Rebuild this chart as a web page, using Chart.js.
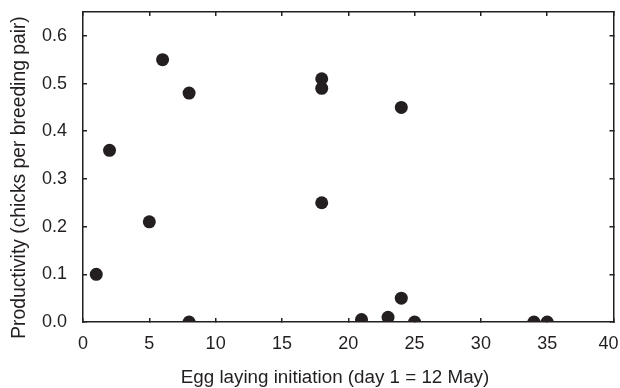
<!DOCTYPE html>
<html>
<head>
<meta charset="utf-8">
<script src="https://cdn.jsdelivr.net/npm/chart.js@4"></script>
<style>
  html, body { margin: 0; padding: 0; background: #ffffff; }
  canvas { display: block; }
</style>
</head>
<body>
<canvas id="c" width="620" height="388"></canvas>
<script>
// Data
const layingDay = [1, 2, 5, 6, 8, 8, 18, 18, 18, 21, 23, 24, 24, 25, 34, 35];
const productivity = [0.10, 0.36, 0.21, 0.55, 0.48, 0.00, 0.51, 0.49, 0.25, 0.005, 0.01, 0.45, 0.05, 0.00, 0.00, 0.00];
const xTickLabels = ['0', '5', '10', '15', '20', '25', '30', '35', '40'];
const yTickLabels = ['0.0', '0.1', '0.2', '0.3', '0.4', '0.5', '0.6'];
const xTitle = 'Egg laying initiation (day 1 = 12 May)';
const yTitle = 'Productivity (chicks per breeding pair)';

const INK = '#231f20';
const FONT = '"Liberation Sans", Arial, Helvetica, sans-serif';

const points = layingDay.map((d, i) => ({ x: d, y: productivity[i] }));

const gridOpts = {
  display: true,
  drawOnChartArea: false,
  drawTicks: true,
  tickLength: -4,
  color: INK,
  lineWidth: 1.5
};
const borderOpts = { display: true, color: INK, width: 1.5 };
const keepY = s => { s.ticks = s.ticks.filter(t => t.value <= 0.6 + 1e-9); };
const noPad = s => { s.paddingLeft = 0; s.paddingRight = 0; s.paddingTop = 0; s.paddingBottom = 0; };

const titlePlugin = {
  id: 'axisTitles',
  afterDraw(chart) {
    const ctx = chart.ctx;
    ctx.save();
    ctx.fillStyle = INK;
    ctx.textAlign = 'center';
    ctx.textBaseline = 'alphabetic';
    ctx.font = '18.8px ' + FONT;
    ctx.fillText(xTitle, 335, 383);
    ctx.translate(25, 177.5);
    ctx.rotate(-Math.PI / 2);
    ctx.font = '19.3px ' + FONT;
    ctx.fillText(yTitle, 0, 0);
    ctx.restore();
  }
};

new Chart(document.getElementById('c'), {
  type: 'scatter',
  data: {
    datasets: [{
      data: points,
      backgroundColor: INK,
      borderColor: INK,
      borderWidth: 0,
      pointRadius: 6.5,
      pointHoverRadius: 6.5,
      clip: 0
    }]
  },
  options: {
    responsive: false,
    animation: false,
    devicePixelRatio: 1,
    layout: { padding: 0 },
    plugins: { legend: { display: false }, tooltip: { enabled: false } },
    scales: {
      x: {
        type: 'linear', position: 'bottom', min: 0, max: 40,
        grid: gridOpts, border: borderOpts,
        ticks: {
          stepSize: 5, padding: 15, color: INK, maxRotation: 0, autoSkip: false,
          font: { family: FONT, size: 18 },
          callback: (v) => {
            const i = Math.round(v / 5);
            const lab = xTickLabels[i] ?? '';
            // keep the last label inside the picture, as in the reference
            return i === xTickLabels.length - 1 ? lab + '  ' : lab;
          }
        },
        afterFit: s => { s.height = 66; noPad(s); }
      },
      x2: {
        type: 'linear', position: 'top', min: 0, max: 40,
        grid: gridOpts, border: borderOpts,
        ticks: { stepSize: 5, display: false },
        afterFit: s => { s.height = 12; noPad(s); }
      },
      y: {
        type: 'linear', position: 'left', min: 0, max: 0.65,
        grid: gridOpts, border: borderOpts,
        afterBuildTicks: keepY,
        ticks: {
          stepSize: 0.1, padding: 20, color: INK, autoSkip: false,
          font: { family: FONT, size: 18 },
          callback: (v) => yTickLabels[Math.round(v * 10)] ?? ''
        },
        afterFit: s => { s.width = 83; noPad(s); }
      },
      y2: {
        type: 'linear', position: 'right', min: 0, max: 0.65,
        grid: gridOpts, border: borderOpts,
        afterBuildTicks: keepY,
        ticks: { stepSize: 0.1, display: false },
        afterFit: s => { s.width = 6; noPad(s); }
      }
    }
  },
  plugins: [titlePlugin]
});
</script>
</body>
</html>
